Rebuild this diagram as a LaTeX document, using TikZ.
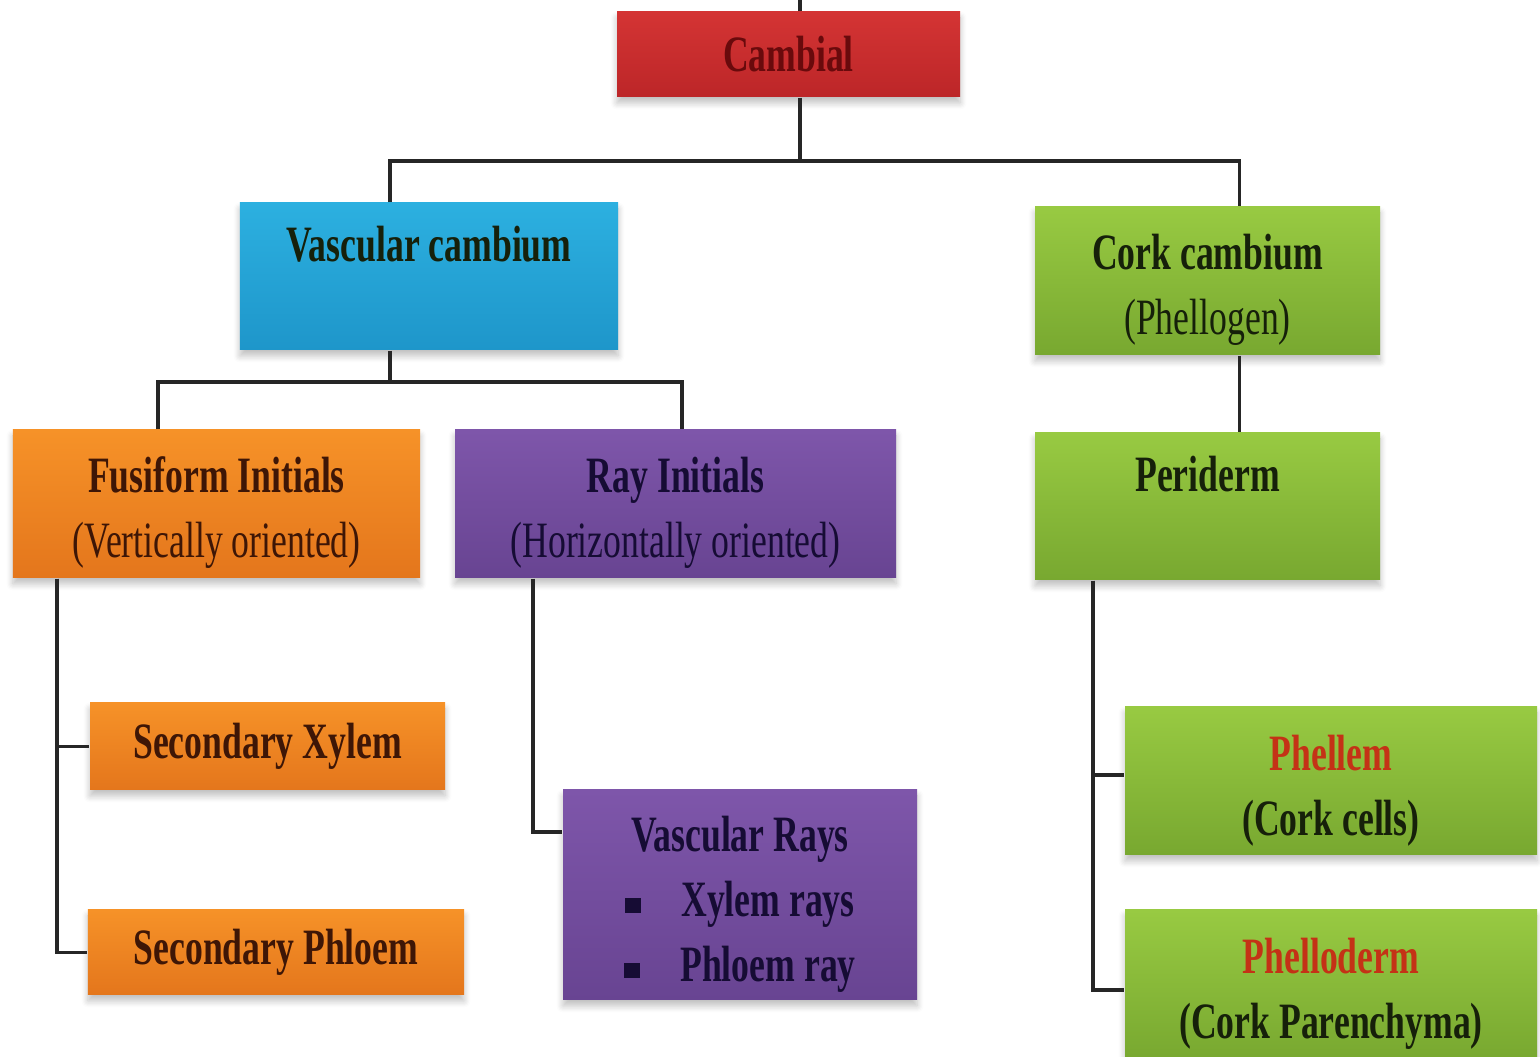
\documentclass[tikz,border=0pt]{standalone}
\usepackage{fontspec}
\setmainfont{Liberation Serif}[FakeStretch=0.7]
\usetikzlibrary{shadows.blur}
\definecolor{cambred}{RGB}{212,52,52}
\definecolor{cambredd}{RGB}{188,38,40}
\definecolor{vascblue}{RGB}{44,176,224}
\definecolor{vascblued}{RGB}{30,150,202}
\definecolor{corkgreen}{RGB}{152,202,66}
\definecolor{corkgreend}{RGB}{120,168,48}
\definecolor{fusiorange}{RGB}{246,146,40}
\definecolor{fusiorangee}{RGB}{228,118,28}
\definecolor{raypurple}{RGB}{126,86,170}
\definecolor{raypurplee}{RGB}{104,68,146}
\definecolor{darkred}{RGB}{105,10,12}
\definecolor{darkbrown}{RGB}{62,22,6}
\definecolor{darknavy}{RGB}{22,12,52}
\definecolor{darkgreen}{RGB}{22,32,10}
\definecolor{phelred}{RGB}{196,50,22}
\newcommand{\raybullet}{\rule[0.15ex]{0.65ex}{0.65ex}\hspace{0.8em}}
\newcommand{\toppad}{\rule{0pt}{0.54cm}}
\begin{document}
\begin{tikzpicture}[x=1cm,y=1cm,
    box/.style={rectangle, inner sep=0pt, align=center,
      font=\fontsize{14.5}{18.5}\selectfont\bfseries,
      blur shadow={shadow xshift=0cm, shadow yshift=-0.06cm, shadow opacity=25, shadow blur steps=6}},
    cambialbox/.style={box, top color=cambred, bottom color=cambredd, text=darkred},
    bluebox/.style={box, top color=vascblue, bottom color=vascblued, text=darkgreen},
    greenbox/.style={box, top color=corkgreen, bottom color=corkgreend, text=darkgreen},
    orangebox/.style={box, top color=fusiorange, bottom color=fusiorangee, text=darkbrown},
    purplebox/.style={box, top color=raypurple, bottom color=raypurplee, text=darknavy},
    link/.style={line width=1.1pt, draw=black!85}]
  \useasboundingbox (0,0) rectangle (15.4,10.57);
  \node[cambialbox, minimum width=3.43cm, minimum height=0.85cm] (cambial) at (7.885,10.025) {Cambial};
  \node[bluebox, minimum width=3.78cm, minimum height=1.47cm] (vasc) at (4.29,7.805) {\toppad Vascular cambium\\ \strut};
  \node[greenbox, minimum width=3.45cm, minimum height=1.48cm] (cork) at (12.075,7.76) {\toppad Cork cambium\\{\mdseries (Phellogen)}};
  \node[orangebox, minimum width=4.07cm, minimum height=1.48cm] (fusi) at (2.165,5.53) {\toppad Fusiform Initials\\{\mdseries (Vertically oriented)}};
  \node[purplebox, minimum width=4.41cm, minimum height=1.48cm] (ray) at (6.755,5.53) {\toppad Ray Initials\\{\mdseries (Horizontally oriented)}};
  \node[greenbox, minimum width=3.45cm, minimum height=1.47cm] (peri) at (12.075,5.505) {\toppad Periderm\\ \strut};
  \node[orangebox, minimum width=3.55cm, minimum height=0.87cm] (secx) at (2.675,3.105) {Secondary Xylem};
  \node[orangebox, minimum width=3.76cm, minimum height=0.85cm] (secp) at (2.76,1.045) {Secondary Phloem};
  \node[purplebox, minimum width=3.54cm, minimum height=2.10cm] (vrays) at (7.40,1.62) {\toppad Vascular Rays\\\raybullet Xylem rays\\\raybullet Phloem ray};
  \node[greenbox, minimum width=4.12cm, minimum height=1.48cm] (phellem) at (13.31,2.76) {\toppad\textcolor{phelred}{Phellem}\\(Cork cells)};
  \node[greenbox, minimum width=4.12cm, minimum height=1.50cm] (phelloderm) at (13.31,0.72) {\toppad\textcolor{phelred}{Phelloderm}\\(Cork Parenchyma)};
  \draw[link] ([xshift=0.115cm]cambial.north) -- ++(0,0.12);
  \draw[link] ([xshift=0.115cm]cambial.south) -- ++(0,-0.63) coordinate (bar1);
  \draw[link] ([xshift=-0.39cm]vasc.north) |- (bar1) -| ([xshift=0.32cm]cork.north);
  \draw[link] ([xshift=-0.39cm]vasc.south) -- ++(0,-0.31) coordinate (bar2);
  \draw[link] ([xshift=-0.585cm]fusi.north) |- (bar2) -| ([xshift=0.065cm]ray.north);
  \draw[link] ([xshift=0.32cm]cork.south) -- ([xshift=0.32cm]peri.north);
  \draw[link] ([xshift=-1.595cm]fusi.south) |- (secx.west);
  \draw[link] ([xshift=-1.595cm]fusi.south) |- (secp.west);
  \draw[link] ([xshift=-1.425cm]ray.south) |- ([yshift=0.63cm]vrays.west);
  \draw[link] ([xshift=-1.145cm]peri.south) |- ([yshift=0.06cm]phellem.west);
  \draw[link] ([xshift=-1.145cm]peri.south) |- ([yshift=-0.05cm]phelloderm.west);
\end{tikzpicture}
\end{document}
